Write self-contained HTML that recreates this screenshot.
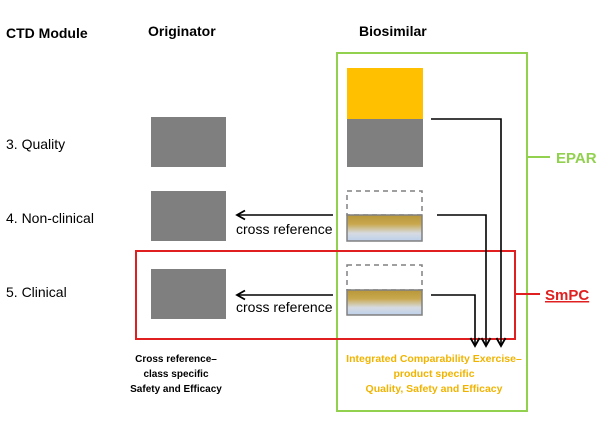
<!DOCTYPE html>
<html><head><style>
body{margin:0;background:#fff;width:600px;height:426px;overflow:hidden}
</style></head><body>
<svg width="600" height="426" xmlns="http://www.w3.org/2000/svg" font-family="Liberation Sans, sans-serif">
<defs>
<linearGradient id="g" x1="0" y1="0" x2="0" y2="1">
<stop offset="0" stop-color="#b8973a"/><stop offset="0.35" stop-color="#c9a84e"/><stop offset="0.7" stop-color="#d6dbe2"/><stop offset="1" stop-color="#bcd0ea"/>
</linearGradient>
<marker id="a" markerWidth="12" markerHeight="12" refX="9" refY="6" orient="auto" markerUnits="userSpaceOnUse">
<path d="M1,1.5 L9,6 L1,10.5" fill="none" stroke="#000" stroke-width="1.8"/></marker>
</defs>
<g font-weight="bold" font-size="14" fill="#000">
<text x="6" y="38">CTD Module</text>
<text x="148" y="36">Originator</text>
<text x="359" y="36">Biosimilar</text>
</g>
<g font-size="14" fill="#000">
<text x="6" y="149">3. Quality</text>
<text x="6" y="223">4. Non-clinical</text>
<text x="6" y="297">5. Clinical</text>
</g>
<rect x="337" y="53" width="190" height="358" fill="none" stroke="#92d050" stroke-width="2"/>
<line x1="527" y1="157" x2="550" y2="157" stroke="#92d050" stroke-width="2"/>
<text x="556" y="163" font-size="15" font-weight="bold" fill="#92d050">EPAR</text>
<rect x="136" y="251" width="379" height="88" fill="none" stroke="#e02020" stroke-width="2"/>
<line x1="515" y1="294" x2="540" y2="294" stroke="#e02020" stroke-width="2"/>
<text x="545" y="300" font-size="15" font-weight="bold" fill="#e02020" text-decoration="underline">SmPC</text>
<g fill="#7f7f7f">
<rect x="151" y="117" width="75" height="50"/>
<rect x="151" y="191" width="75" height="50"/>
<rect x="151" y="269" width="75" height="50"/>
</g>
<rect x="347" y="68" width="76" height="51" fill="#ffc000"/>
<rect x="347" y="119" width="76" height="48" fill="#7f7f7f"/>
<rect x="347" y="191" width="75" height="24" fill="none" stroke="#808080" stroke-width="1.5" stroke-dasharray="5,4"/>
<rect x="347" y="215" width="75" height="26" fill="url(#g)" stroke="#808080" stroke-width="1.5"/>
<rect x="347" y="265" width="75" height="25" fill="none" stroke="#808080" stroke-width="1.5" stroke-dasharray="5,4"/>
<rect x="347" y="290" width="75" height="25" fill="url(#g)" stroke="#808080" stroke-width="1.5"/>
<g stroke="#000" stroke-width="1.6" fill="none">
<line x1="333" y1="215" x2="237" y2="215" marker-end="url(#a)"/>
<line x1="333" y1="295" x2="237" y2="295" marker-end="url(#a)"/>
<polyline points="431,119 501,119 501,346" marker-end="url(#a)"/>
<polyline points="437,215 486,215 486,346" marker-end="url(#a)"/>
<polyline points="431,295 475,295 475,346" marker-end="url(#a)"/>
</g>
<g font-size="14" fill="#000">
<text x="236" y="234">cross reference</text>
<text x="236" y="312">cross reference</text>
</g>
<g font-size="10" font-weight="bold" fill="#000" text-anchor="middle">
<text x="176" y="362">Cross reference–</text>
<text x="176" y="377">class specific</text>
<text x="176" y="392">Safety and Efficacy</text>
</g>
<g font-size="10.5" font-weight="bold" fill="#f0b400" text-anchor="middle">
<text x="434" y="362">Integrated Comparability Exercise–</text>
<text x="434" y="377">product specific</text>
<text x="434" y="392">Quality, Safety and Efficacy</text>
</g>
</svg>
</body></html>
